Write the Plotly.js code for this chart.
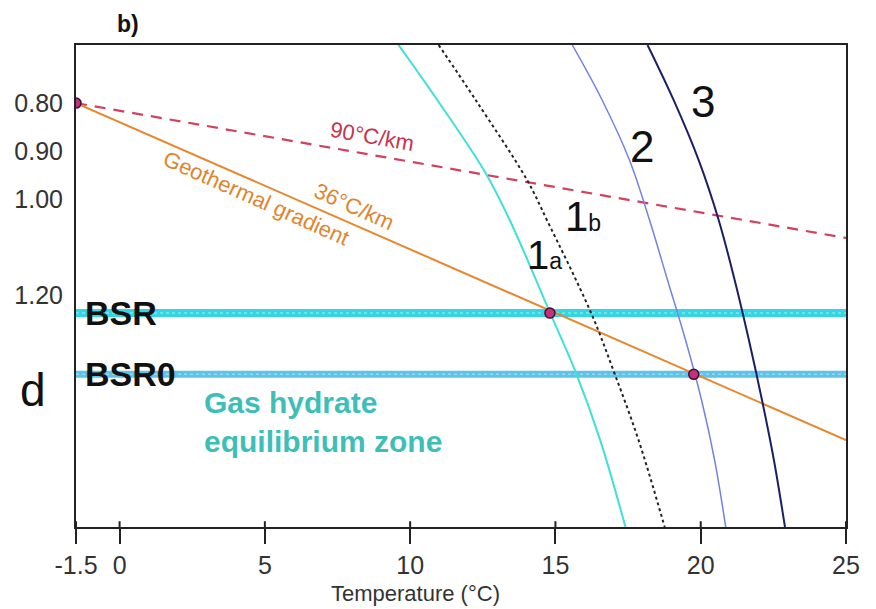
<!DOCTYPE html>
<html>
<head>
<meta charset="utf-8">
<script src="https://cdn.plot.ly/plotly-3.0.1.min.js"></script>
<style>html,body{margin:0;padding:0;background:#fff;}#chart{width:876px;height:609px;}</style>
</head>
<body>
<div id="chart"></div>
<script>
// Temperature (°C) and depth (km)
const xTickVals = [-1.5, 0, 5, 10, 15, 20, 25];
const xTickText = ['-1.5', '0', '5', '10', '15', '20', '25'];
const yTickVals = [0.80, 0.90, 1.00, 1.20];
const yTickText = ['0.80', '0.90', '1.00', '1.20'];

const grad90T = [-1.5, 25];
const grad90D = [0.800, 1.081];
const grad36T = [-1.5, 25];
const grad36D = [0.800, 1.502];

const curve1aT = [9.60, 10.94, 12.60, 13.43, 14.82, 15.71, 16.54, 17.41];
const curve1aD = [0.679, 0.794, 0.946, 1.044, 1.2375, 1.3625, 1.502, 1.683];
const curve1bT = [10.98, 12.26, 14.02, 14.71, 16.23, 17.03, 17.86, 18.76];
const curve1bD = [0.679, 0.794, 0.960, 1.044, 1.2375, 1.3625, 1.502, 1.683];
const curve2T = [15.58, 16.61, 17.55, 18.24, 18.86, 19.48, 20.03, 20.48, 20.86];
const curve2D = [0.679, 0.794, 0.919, 1.044, 1.169, 1.294, 1.419, 1.544, 1.683];
const curve3T = [18.17, 19.07, 19.93, 20.62, 21.17, 21.66, 22.11, 22.52, 22.90];
const curve3D = [0.679, 0.794, 0.919, 1.044, 1.169, 1.294, 1.419, 1.544, 1.683];

const bsrDepth = 1.2375;
const bsr0Depth = 1.365;
const pointT = [-1.5, 14.81, 19.76];
const pointD = [0.800, 1.2375, 1.365];

const xRange = [-1.5, 25];
const yRange = [1.683, 0.679];

const font = 'Liberation Sans, Arial, sans-serif';

const traces = [
  {x: xRange, y: [bsrDepth, bsrDepth], mode: 'lines', line: {color: '#33d6e2', width: 8}, hoverinfo: 'skip'},
  {x: xRange, y: [bsrDepth, bsrDepth], mode: 'lines', line: {color: '#86e6ee', width: 1.5, dash: 'dot'}, hoverinfo: 'skip'},
  {x: xRange, y: [bsr0Depth, bsr0Depth], mode: 'lines', line: {color: '#5cc4e8', width: 7}, hoverinfo: 'skip'},
  {x: xRange, y: [bsr0Depth, bsr0Depth], mode: 'lines', line: {color: '#96d9f2', width: 1.5, dash: 'dot'}, hoverinfo: 'skip'},
  {x: grad90T, y: grad90D, mode: 'lines', line: {color: '#d2405c', width: 2.2, dash: '11px,8px'}},
  {x: grad36T, y: grad36D, mode: 'lines', line: {color: '#e8862c', width: 2}},
  {x: curve1aT, y: curve1aD, mode: 'lines', line: {color: '#3fe0d6', width: 2, shape: 'spline', smoothing: 1}},
  {x: curve1bT, y: curve1bD, mode: 'lines', line: {color: '#222222', width: 2, dash: 'dot', shape: 'spline', smoothing: 1}},
  {x: curve2T, y: curve2D, mode: 'lines', line: {color: '#7482e0', width: 1.5, shape: 'spline', smoothing: 1}},
  {x: curve3T, y: curve3D, mode: 'lines', line: {color: '#1c1f66', width: 2, shape: 'spline', smoothing: 1}},
  {x: pointT, y: pointD, mode: 'markers', marker: {color: '#c4307e', size: 10, line: {color: '#3a1030', width: 1.5}}}
];

const tickShapes = xTickVals.map(v => ({
  type: 'line', xref: 'x', yref: 'paper', x0: v, x1: v, y0: 0, y1: 0.012,
  line: {color: '#222', width: 2}
}));

const ann = (x, y, text, size, color, extra) => Object.assign({
  x: x, y: y, xref: 'x', yref: 'y', text: text, showarrow: false,
  font: {family: font, size: size, color: color}
}, extra || {});

// fixed-position texts in page pixels -> paper coords (plot area 76..846 x 45..527)
const pap = (px, py, text, size, color, extra) => Object.assign({
  x: (px - 76) / 770, y: (527 - py) / 482, xref: 'paper', yref: 'paper',
  xanchor: 'center', yanchor: 'middle', text: text, showarrow: false,
  font: {family: font, size: size, color: color}
}, extra || {});

const annotations = [
  pap(128, 24, '<b>b)</b>', 23, '#111'),
  pap(33, 390, 'd', 46, '#111'),
  pap(415, 593, 'Temperature (°C)', 22, '#333'),
  ann(20.07, 0.796, '3', 44, '#111'),
  ann(17.99, 0.890, '2', 44, '#111'),
  ann(15.96, 1.036, '1<span style="font-size:23px">b</span>', 42, '#111'),
  ann(14.64, 1.117, '1<span style="font-size:23px">a</span>', 40, '#111'),
  ann(8.70, 0.869, '90°C/km', 22, '#c8344e', {textangle: 10}),
  ann(8.07, 1.015, '36°C/km', 22, '#e0852e', {textangle: 24}),
  ann(4.72, 0.998, 'Geothermal gradient', 22, '#e0852e', {textangle: 24}),
  ann(-1.25, 1.2375, '<b>BSR</b>', 34, '#111', {xanchor: 'left'}),
  ann(-1.25, 1.365, '<b>BSR0</b>', 34, '#111', {xanchor: 'left'}),
  ann(2.85, 1.465, '<b>Gas hydrate<br>equilibrium zone</b>', 30, '#3dbfb8', {xanchor: 'left', align: 'left'})
];

const layout = {
  width: 876, height: 609,
  margin: {l: 76, r: 30, t: 45, b: 82},
  paper_bgcolor: '#fff', plot_bgcolor: '#fff',
  showlegend: false,
  font: {family: font, color: '#333'},
  xaxis: {
    range: xRange, tickvals: xTickVals, ticktext: xTickText,
    ticks: 'outside', ticklen: 15, tickwidth: 2, tickcolor: '#222',
    showline: true, linecolor: '#222', linewidth: 2, mirror: true,
    showgrid: false, zeroline: false,
    tickfont: {family: font, size: 25, color: '#333'}
  },
  yaxis: {
    range: yRange, tickvals: yTickVals, ticktext: yTickText,
    ticks: '', showline: true, linecolor: '#222', linewidth: 2, mirror: true,
    showgrid: false, zeroline: false, ticklabelstandoff: 6,
    tickfont: {family: font, size: 25, color: '#333'}
  },
  shapes: tickShapes,
  annotations: annotations
};

Plotly.newPlot('chart', traces, layout, {displayModeBar: false, staticPlot: true});
</script>
</body>
</html>
